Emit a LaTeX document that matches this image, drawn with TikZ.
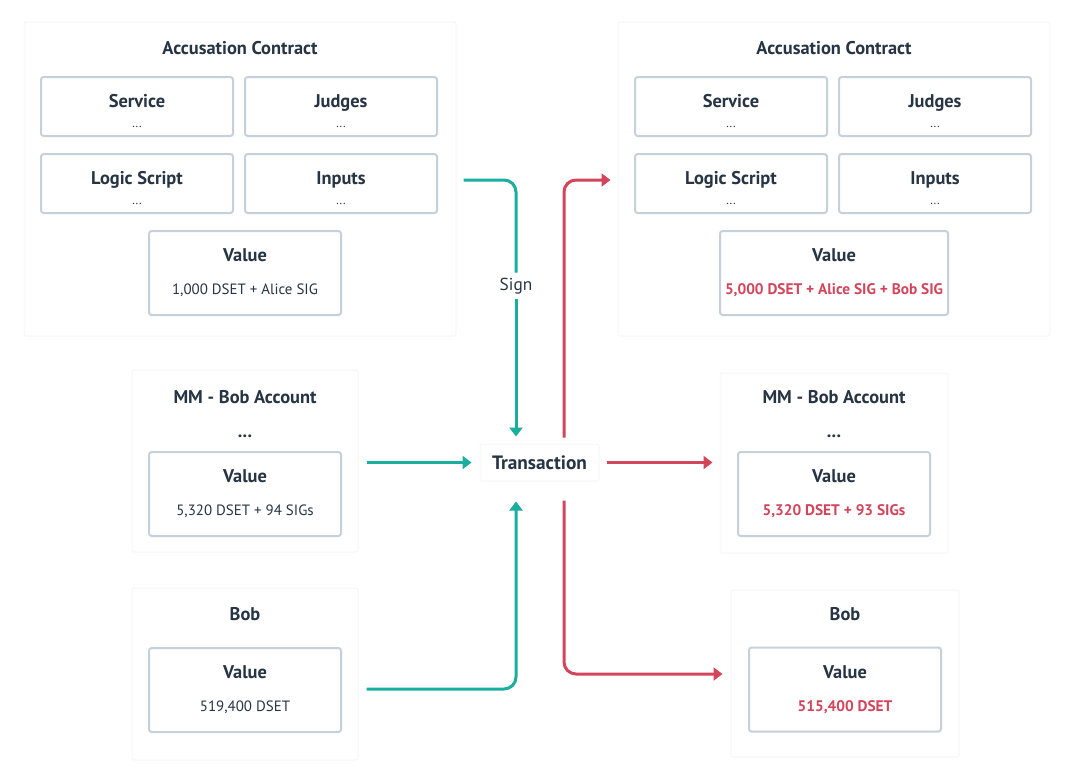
\documentclass[tikz,border=0pt]{standalone}
\usepackage{fontspec}
\setmainfont{PT Sans}
\usetikzlibrary{arrows.meta,positioning,calc}
\definecolor{txgreen}{RGB}{26,174,159}
\definecolor{txred}{RGB}{211,69,91}
\definecolor{txtext}{RGB}{38,52,67}
\definecolor{txborder}{RGB}{197,208,218}
\definecolor{txshade}{RGB}{245,246,248}

\tikzset{
  panel/.style={draw=txshade, fill=white, line width=0.75pt, rounded corners=1.5pt, inner sep=0pt},
  field/.style={draw=txborder, line width=1.5pt, rounded corners=2pt, inner sep=0pt,
    minimum width=144pt, minimum height=44.25pt},
  valbox/.style={field, minimum height=63pt},
  head/.style={text=txtext, anchor=base, font=\fontsize{13.8}{16}\selectfont\bfseries},
  sub/.style={text=txtext, anchor=base, font=\fontsize{11.2}{13}\selectfont},
  dots/.style={text=txtext, anchor=base, font=\fontsize{9}{10}\selectfont},
  newval/.style={text=txred, anchor=base, font=\fontsize{11.5}{13}\selectfont\bfseries},
  signarrow/.style={draw=txgreen, line width=2.25pt, rounded corners=9pt},
  spendarrow/.style={draw=txred, line width=2.25pt, rounded corners=9pt},
  headtip/.style={-{Triangle[length=6.75pt,width=9.75pt]}}
}

\begin{document}
\begin{tikzpicture}[x=0.75pt,y=-0.75pt]
\useasboundingbox (0,0) rectangle (1074,782);

% contracts, before and after
\node[panel, minimum width=324pt, minimum height=235.5pt] (accl) at (240,179) {};
\node[panel, minimum width=324pt, minimum height=235.5pt] (accr) at (834,179) {};
\node[head] (acclt) at (240,54) {Accusation Contract};
\node[head] (accrt) at (834,54) {Accusation Contract};
\foreach \cx/\side in {0/l,594/r}{
  \foreach \fx/\fy/\fname/\fid in {137/106.5/Service/svc, 341/106.5/Judges/jdg,
                                   137/183.5/Logic Script/lgc, 341/183.5/Inputs/inp}{
    \node[field] (\fid\side) at (\cx+\fx,\fy) {};
    \node[head] (\fid\side t) at (\cx+\fx,\fy+0.5) {\fname};
    \node[dots] (\fid\side d) at (\cx+\fx,\fy+20.5) {...};
  }
}
\node[valbox] (accvl) at (245,273) {};
\node[head] (accvlt) at (245,261) {Value};
\node[sub] (accvls) at (245,294) {1,000 DSET + Alice SIG};
\node[valbox, minimum width=171pt] (accvr) at (834,273) {};
\node[head] (accvrt) at (834,261) {Value};
\node[newval] (accvrs) at (834,294) {5,000 DSET + Alice SIG + Bob SIG};

% MM - Bob Account
\node[panel, minimum width=169.5pt, minimum height=136.5pt] (mml) at (245,461) {};
\node[head] (mmlt) at (245,403) {MM - Bob Account};
\node[head] (mmld) at (245,437) {...};
\node[valbox] (mmvl) at (245,494) {};
\node[head] (mmvlt) at (245,482) {Value};
\node[sub] (mmvls) at (245,515) {5,320 DSET + 94 SIGs};
\node[panel, minimum width=171pt, minimum height=135pt] (mmr) at (834,463) {};
\node[head] (mmrt) at (834,403) {MM - Bob Account};
\node[head] (mmrd) at (834,437) {...};
\node[valbox] (mmvr) at (834,494) {};
\node[head] (mmvrt) at (834,482) {Value};
\node[newval] (mmvrs) at (834,515) {5,320 DSET + 93 SIGs};

% Bob
\node[panel, minimum width=169.5pt, minimum height=129pt] (bobl) at (245,674) {};
\node[head] (boblt) at (245,620) {Bob};
\node[valbox] (bobvl) at (245,690) {};
\node[head] (bobvlt) at (245,678) {Value};
\node[sub] (bobvls) at (245,711) {519,400 DSET};
\node[panel, minimum width=171pt, minimum height=125.25pt] (bobr) at (845,673.5) {};
\node[head] (bobrt) at (845,620) {Bob};
\node[valbox] (bobvr) at (845,689.5) {};
\node[head] (bobvrt) at (845,678) {Value};
\node[newval] (bobvrs) at (845,711) {515,400 DSET};

% transaction
\node[panel, minimum width=89.25pt, minimum height=27.75pt, text=txtext,
      font=\fontsize{14.5}{17}\selectfont\bfseries] (tx) at (539.5,462.5) {Transaction};
\node[text=txtext, inner sep=0pt, minimum height=19.5pt,
      font=\fontsize{13}{15}\selectfont] (sign) at (516,286) {Sign};

% inputs
\draw[signarrow] ($(accl.east)+(7,1)$) -| (sign.north);
\draw[signarrow, headtip] (sign.south) -- ($(tx.north)+(-23.5,-7)$);
\draw[signarrow, headtip] ($(mml.east|-tx.west)+(8,0)$) -- ($(tx.west)+(-8,0)$);
\draw[signarrow, headtip] ($(bobl.east|-bobvl.east)+(8,-1)$) -| ($(tx.south)+(-23.5,20)$);

% outputs
\draw[spendarrow, headtip] ($(tx.north)+(24.5,-6)$) |- ($(accr.west)+(-7,1)$);
\draw[spendarrow, headtip] ($(tx.east)+(7,0)$) -- ($(mmr.west|-tx.east)+(-7,0)$);
\draw[spendarrow, headtip] ($(tx.south)+(24.5,19)$) |- ($(bobr.west)+(-8,0.5)$);
\end{tikzpicture}
\end{document}
